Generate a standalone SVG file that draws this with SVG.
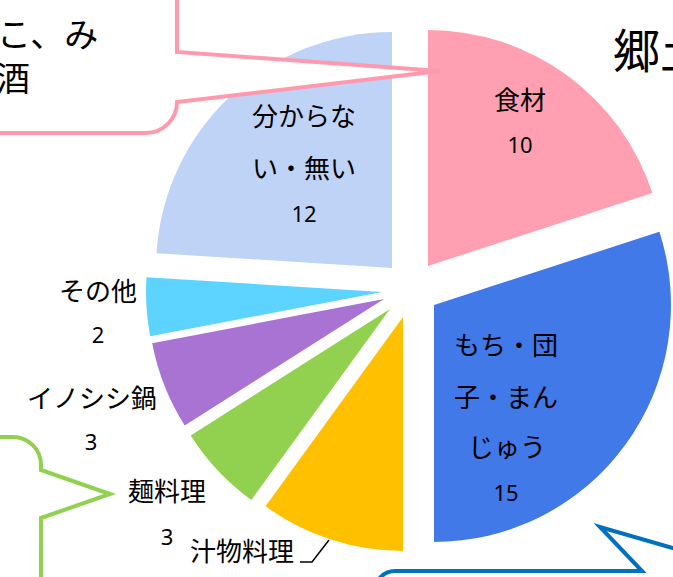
<svg xmlns="http://www.w3.org/2000/svg" width="673" height="577" viewBox="0 0 673 577">
<style>
.lbl{font-family:"Noto Sans CJK JP","Noto Sans",sans-serif;font-size:26px;fill:#000;text-anchor:middle}
.num{font-family:"Noto Sans","Liberation Sans",sans-serif;font-size:22px;fill:#000;text-anchor:middle}
.big{font-family:"Noto Sans CJK JP",sans-serif;fill:#000}
.callout{fill:#fff;stroke-width:4;stroke-linejoin:miter}
</style>
<rect width="673" height="577" fill="#fff"/>
<g id="pie">
<g id="slice-shokuzai"><path d="M428,266 L428,30 A236,236 0 0 1 652.4,193.1 Z" fill="#FF9FB1"/></g>
<g id="slice-mochi"><path d="M434,305 L659.4,231.8 A237,237 0 0 1 434,542 Z" fill="#4179E8"/></g>
<g id="slice-shirumono"><path d="M403,317 L403,551 A234,234 0 0 1 265.5,506.3 Z" fill="#FFC000"/></g>
<g id="slice-men"><path d="M390,309 L251.3,499.9 A236,236 0 0 1 190.7,435.4 Z" fill="#92D050"/></g>
<g id="slice-inoshishi"><path d="M384,299 L184.7,425.4 A236,236 0 0 1 152.2,343.2 Z" fill="#A973D3"/></g>
<g id="slice-sonota"><path d="M382,292 L150.2,336.2 A236,236 0 0 1 146.5,277.2 Z" fill="#5CD4FF"/></g>
<g id="slice-wakaranai"><path d="M392,268 L156.5,253.2 A236,236 0 0 1 392,32 Z" fill="#BFD3F6"/></g>
</g>
<g id="labels">
<text class="lbl" x="520" y="110">食材</text>
<text class="num" x="520" y="153">10</text>
<text class="lbl" x="304" y="126">分からな</text>
<text class="lbl" x="304" y="178">い・無い</text>
<text class="num" x="304" y="222">12</text>
<text class="lbl" x="506" y="355">もち・団</text>
<text class="lbl" x="506" y="407">子・まん</text>
<text class="lbl" x="507" y="457">じゅう</text>
<text class="num" x="506" y="501">15</text>
<text class="lbl" x="98" y="301">その他</text>
<text class="num" x="98" y="343">2</text>
<text class="lbl" x="92" y="408">イノシシ鍋</text>
<text class="num" x="91" y="450">3</text>
<text class="lbl" x="167" y="501">麺料理</text>
<text class="num" x="167" y="545">3</text>
<text class="lbl" x="242" y="561">汁物料理</text>
</g>
<g id="connectors">
<polyline points="300,562 312,562 329,540" fill="none" stroke="#000" stroke-width="1.5"/>
</g>
<g id="callout-pink">
<path class="callout" stroke="#FF9AAE" d="M-10,-10 L177,-10 L177,52 L440,71 L177,102 A31,31 0 0 1 146,133 L-10,133 Z"/>
<text class="big" font-size="34" x="-3" y="47">こ、み</text>
<text class="big" font-size="34" x="-4" y="91">酒</text>
</g>
<g id="callout-green">
<path class="callout" stroke="#92D050" d="M-10,437 L13,437 A28,28 0 0 1 41,465 L41,470 L110,494 L41,518 L41,590 L-10,590 Z"/>
</g>
<g id="callout-blue">
<path class="callout" stroke="#0070C0" d="M700,556 L600,527 L642,571 L395,571 A20,20 0 0 0 375,591 L700,591 Z"/>
</g>
<g id="title">
<text class="big" font-size="47" x="613" y="68">郷土</text>
</g>
</svg>
